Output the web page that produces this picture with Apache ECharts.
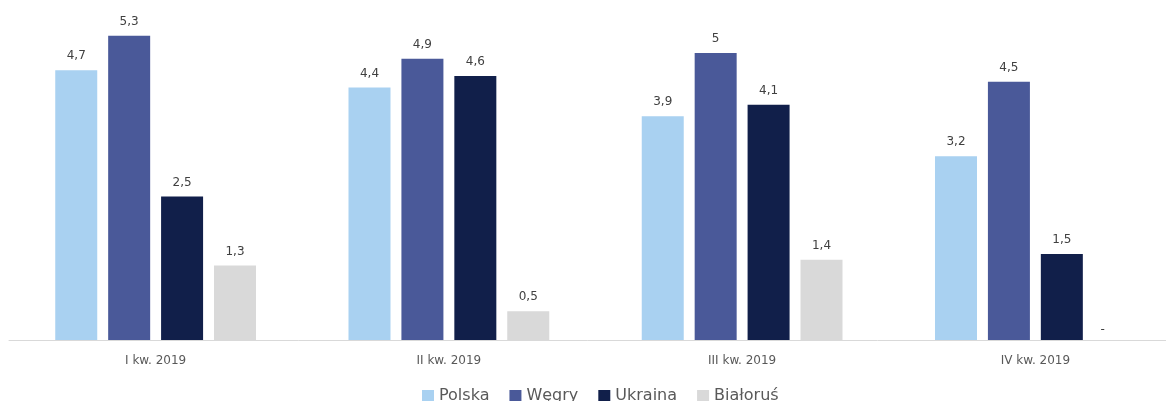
<!DOCTYPE html>
<html>
<head>
<meta charset="utf-8">
<script src="https://cdn.jsdelivr.net/npm/echarts@6/dist/echarts.min.js"></script>
<style>
html,body{margin:0;padding:0;background:#fff;}
#chart{width:1166px;height:401px;}
</style>
</head>
<body>
<div id="chart"></div>
<script>
var categories = ['I kw. 2019', 'II kw. 2019', 'III kw. 2019', 'IV kw. 2019'];
var seriesNames = ['Polska', 'Węgry', 'Ukraina', 'Białoruś'];
var polska = [4.7, 4.4, 3.9, 3.2];
var wegry = [5.3, 4.9, 5.0, 4.5];
var ukraina = [2.5, 4.6, 4.1, 1.5];
var bialorus = [1.3, 0.5, 1.4, 0];
var colors = ['#A9D1F1', '#4A5999', '#111F4A', '#D9D9D9'];

var FONT = 'DejaVu Sans, Verdana, sans-serif';
var chart = echarts.init(document.getElementById('chart'));
var fmt = function (p) {
  if (p.value === 0) return '-';
  return String(p.value).replace('.', ',');
};
var allData = [polska, wegry, ukraina, bialorus];
var series = allData.map(function (d, i) {
  return {
    name: seriesNames[i],
    type: 'bar',
    data: d.map(function (v) {
      if (v === 0) {
        return { value: 0, label: { position: 'insideBottom', offset: [-12, -4], distance: 0 } };
      }
      return v;
    }),
    itemStyle: { color: colors[i] },
    barWidth: 42,
    barGap: '26%',
    label: {
      show: true,
      position: 'top',
      distance: 8,
      color: '#404040',
      fontFamily: FONT,
      fontSize: 12,
      formatter: fmt
    }
  };
});

chart.setOption({
  animation: false,
  backgroundColor: '#fff',
  color: colors,
  grid: { left: 9, width: 1173, top: 10, height: 330, containLabel: false, outerBoundsMode: 'none' },
  legend: {
    top: 383,
    left: 417,
    itemWidth: 12,
    itemHeight: 12,
    itemGap: 20,
    icon: 'rect',
    textStyle: { color: '#595959', fontSize: 16, fontFamily: FONT },
    data: seriesNames
  },
  xAxis: {
    type: 'category',
    data: categories,
    axisLine: { lineStyle: { color: '#D9D9D9', width: 1 } },
    axisTick: { show: false },
    axisLabel: { color: '#595959', fontSize: 12, margin: 15, fontFamily: FONT }
  },
  yAxis: {
    type: 'value',
    min: 0,
    max: 5.75,
    show: false,
    splitLine: { show: false }
  },
  series: series
});
</script>
</body>
</html>
